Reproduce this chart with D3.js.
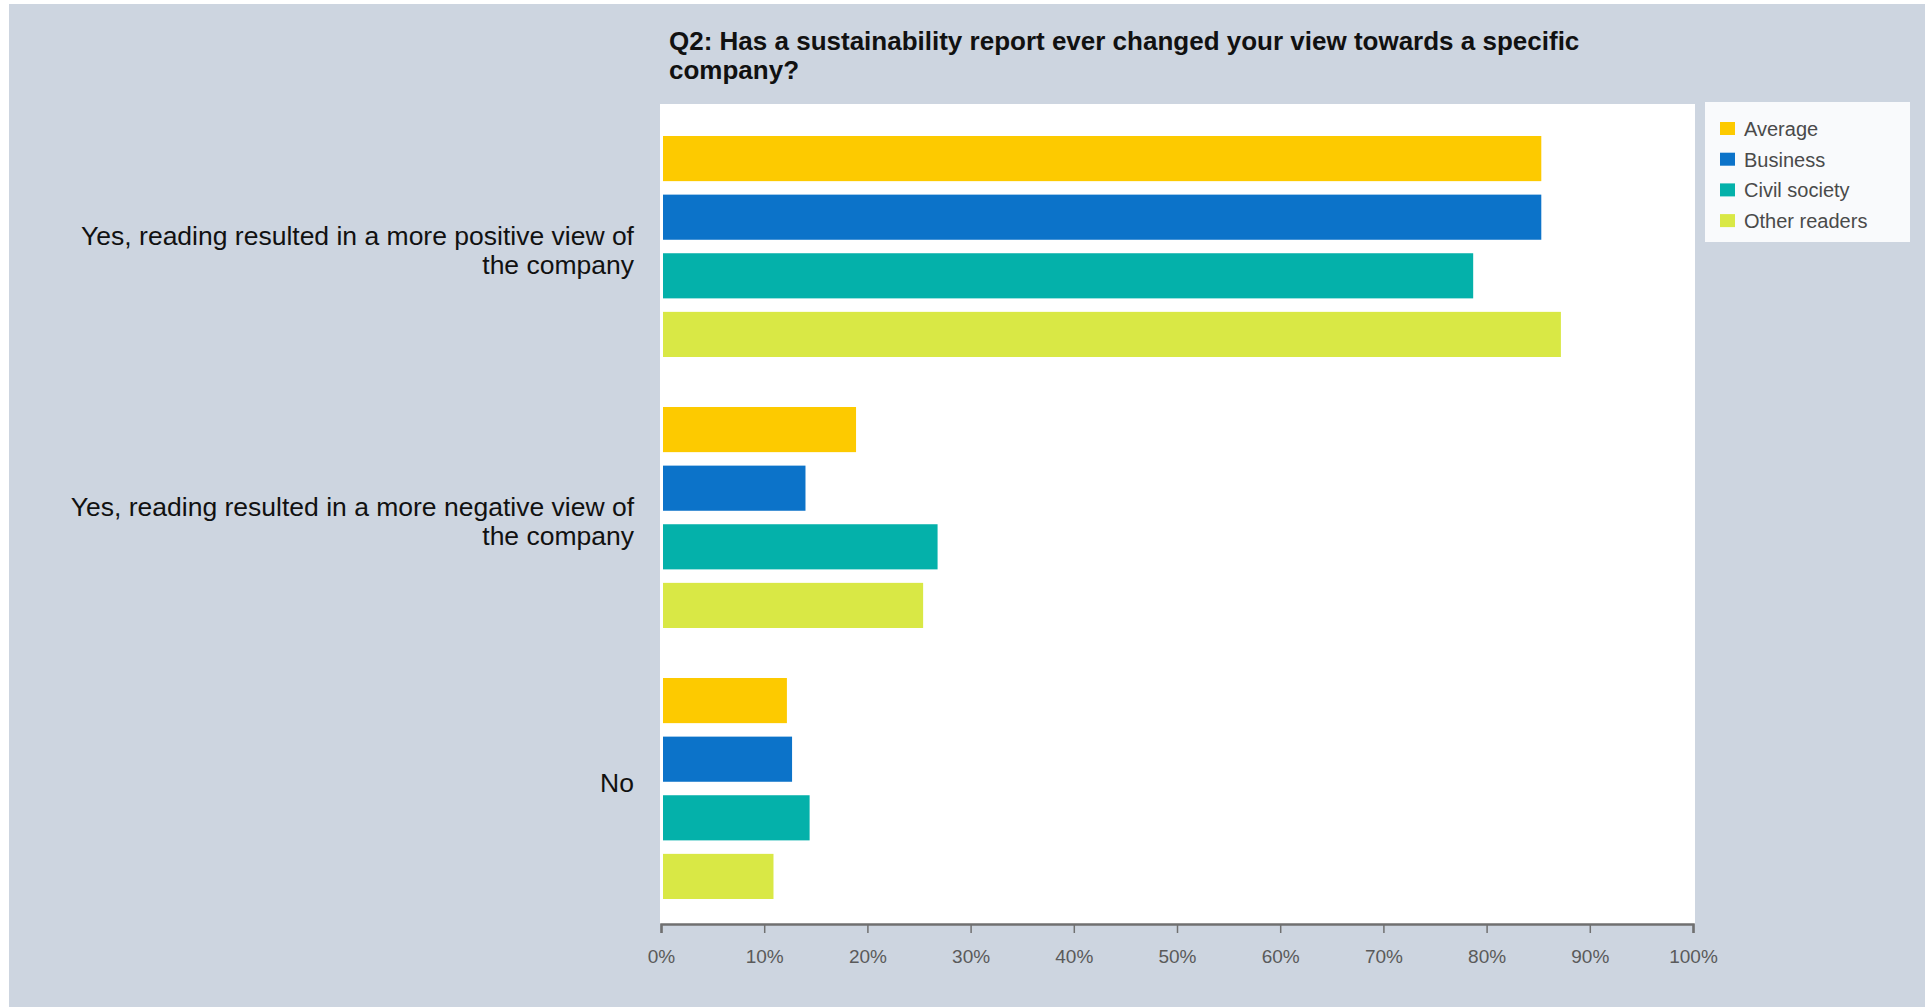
<!DOCTYPE html>
<html>
<head>
  <meta charset="utf-8">
  <title>Q2 sustainability report</title>
  <script src="https://d3js.org/d3.v7.min.js"></script>
  <style>
    body { margin: 0; background: #ffffff; }
    text { font-family: "Liberation Sans", Arial, sans-serif; }
  </style>
</head>
<body>

  <svg width="1925" height="1007"></svg>

  <script>

    // Data
    const categories = [
      "Yes, reading resulted in a more positive view of|the company",
      "Yes, reading resulted in a more negative view of|the company",
      "No"
    ];
    const series = ["Average", "Business", "Civil society", "Other readers"];
    const average = [85.3, 18.9, 12.2];
    const business = [85.3, 14.0, 12.7];
    const civilSociety = [78.7, 26.8, 14.4];
    const otherReaders = [87.2, 25.4, 10.9];
    const tickValues = [0, 10, 20, 30, 40, 50, 60, 70, 80, 90, 100];
    const titleLines = [
      "Q2: Has a sustainability report ever changed your view towards a specific",
      "company?"
    ];

    const colors = ["#fdca00", "#0c73c9", "#04b1aa", "#d9e845"];
    const seriesValues = [average, business, civilSociety, otherReaders];

    const width = 1925;
    const height = 1007;
    const plot = { left: 660, right: 1695, top: 104, bottom: 924 };

    const svg = d3.select("svg")
      .attr("width", width)
      .attr("height", height);

    // Background with thin white edge top and left
    svg.append("rect")
      .attr("x", 9).attr("y", 4)
      .attr("width", width - 9).attr("height", height - 4)
      .attr("fill", "#cdd5e0");

    // Title
    svg.append("g").selectAll("text")
      .data(titleLines)
      .enter().append("text")
        .attr("x", 669)
        .attr("y", (d, i) => 50 + i * 29)
        .attr("font-size", 26)
        .attr("font-weight", "bold")
        .attr("fill", "#111")
        .text(d => d);

    // Plot area
    svg.append("rect")
      .attr("x", plot.left).attr("y", plot.top)
      .attr("width", plot.right - plot.left)
      .attr("height", plot.bottom - plot.top)
      .attr("fill", "#ffffff");

    // Scales
    const x = d3.scaleLinear()
      .domain([0, 100])
      .range([661, 1693]);

    const y0 = d3.scaleBand()
      .domain(categories)
      .range([105, 918])
      .padding(0);

    const y1 = d3.scaleBand()
      .domain(series)
      .range([31, 252])
      .paddingInner(0.23)
      .paddingOuter(0);

    // Bars
    const groups = svg.append("g").selectAll("g")
      .data(categories)
      .enter().append("g")
        .attr("transform", d => `translate(0,${y0(d)})`);

    groups.selectAll("rect")
      .data((d, ci) => series.map((s, si) => ({ s, si, v: seriesValues[si][ci] })))
      .enter().append("rect")
        .attr("x", x(0) + 2)
        .attr("y", d => y1(d.s))
        .attr("width", d => x(d.v) - x(0) - 2)
        .attr("height", y1.bandwidth())
        .attr("fill", d => colors[d.si]);

    // Category labels (right aligned, may be two lines)
    groups.each(function(d) {
      const lines = d.split("|");
      const c = (y1.range()[0] + y1.range()[1]) / 2;
      const shift = lines.length > 1 ? 3.75 : -5.5;
      d3.select(this).selectAll("text")
        .data(lines)
        .enter().append("text")
          .attr("x", 634)
          .attr("y", (l, i) => c + 9 + (i - (lines.length - 1) / 2) * 29.5 + shift)
          .attr("text-anchor", "end")
          .attr("font-size", 26.5)
          .attr("fill", "#111")
          .text(l => l);
    });

    // X axis
    const xAxis = svg.append("g")
      .attr("transform", `translate(0,${plot.bottom})`)
      .call(d3.axisBottom(x)
        .tickValues(tickValues)
        .tickSize(9)
        .tickPadding(17)
        .tickFormat(d => d + "%"));

    xAxis.select(".domain")
      .attr("stroke", "#707070")
      .attr("stroke-width", 2.5);
    xAxis.selectAll(".tick line")
      .attr("stroke", "#707070")
      .attr("stroke-width", 1.5);
    xAxis.selectAll(".tick text")
      .attr("font-size", 19)
      .attr("font-family", "'Liberation Sans', Arial, sans-serif")
      .attr("fill", "#5a5a5a");

    // Legend
    const legend = svg.append("g");
    legend.append("rect")
      .attr("x", 1705).attr("y", 102)
      .attr("width", 205).attr("height", 140)
      .attr("fill", "#f9fafc");

    const legendRows = legend.selectAll("g")
      .data(series)
      .enter().append("g")
        .attr("transform", (d, i) => `translate(1720,${129 + i * 30.7})`);

    legendRows.append("rect")
      .attr("x", 0).attr("y", -7)
      .attr("width", 15).attr("height", 13)
      .attr("fill", (d, i) => colors[i]);

    legendRows.append("text")
      .attr("x", 24)
      .attr("y", 7)
      .attr("font-size", 20)
      .attr("fill", "#4a4a4a")
      .text(d => d);

  </script>

</body>
</html>
